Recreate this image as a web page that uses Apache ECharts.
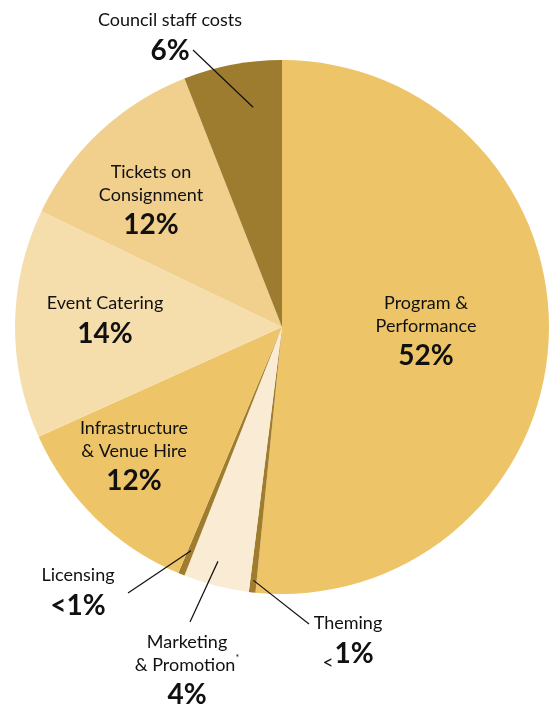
<!DOCTYPE html>
<html>
<head>
<meta charset="utf-8">
<script src="https://cdn.jsdelivr.net/npm/echarts@6/dist/echarts.min.js"></script>
<style>
  html, body { margin: 0; padding: 0; background: #ffffff; }
  #chart { width: 552px; height: 707px; }
</style>
</head>
<body>
<div id="chart"></div>
<script>
// Budget split, clockwise from 12 o'clock
const categories = [
  'Program & Performance', 'Theming', 'Marketing & Promotion', 'Licensing',
  'Infrastructure & Venue Hire', 'Event Catering', 'Tickets on Consignment', 'Council staff costs'
];
const shares = [52, 0.4, 4, 0.4, 12, 14, 12, 6];
const shareLabels = ['52%', '<1%', '4%', '<1%', '12%', '14%', '12%', '6%'];
const nameLines = [
  ['Program &', 'Performance'],
  ['Theming'],
  ['Marketing', '& Promotion*'],
  ['Licensing'],
  ['Infrastructure', '& Venue Hire'],
  ['Event Catering'],
  ['Tickets on', 'Consignment'],
  ['Council staff costs']
];

// Styling and label placement
const sliceColors = ['#EDC468', '#A07D2E', '#FAEBD4', '#A07D2E', '#EDC468', '#F6DEAC', '#F1CF8C', '#9D7B2F'];
const CENTER = [282, 327];
const RADIUS = 267;
const labelAt = [
  [426, 333], [348, 642], [187, 672], [78, 594],
  [134, 458], [105, 322], [151, 202], [170, 39]
];
// callout leader lines: position within slice (t), radius fraction, outer end
const callouts = {
  1: { t: 0.5, r: 0.955, end: [309, 624] },
  2: { t: 0.57, r: 0.91, end: [190, 622] },
  3: { t: 0.5, r: 0.905, end: [128, 593] },
  7: { t: 0.65, r: 0.83, end: [193, 50] }
};

const total = shares.reduce((a, b) => a + b, 0);
const startAngles = [];
shares.reduce((acc, v, i) => { startAngles[i] = acc; return acc + v / total * 360; }, 0);

function pointAt(i, t, rf) {
  const a = (startAngles[i] + t * shares[i] / total * 360) * Math.PI / 180;
  return [CENTER[0] + rf * RADIUS * Math.sin(a), CENTER[1] - rf * RADIUS * Math.cos(a)];
}

function pctText(i) {
  const s = shareLabels[i];
  if (i === 1) return '{lt|<}{pct|' + s.slice(1) + '}';
  return '{pct|' + s + '}';
}

const data = categories.map((name, i) => ({
  name: name,
  value: shares[i],
  itemStyle: { color: sliceColors[i] },
  label: {
    position: 'inside',
    formatter: nameLines[i].map(l => {
      const star = l.endsWith('*');
      return star ? '{name|' + l.slice(0, -1) + '}{sup|*}' : '{name|' + l + '}';
    }).join('\n') + '\n' + pctText(i)
  }
}));

// leader lines from inside the small slices out to their labels
const leaders = Object.keys(callouts).map(k => {
  const i = Number(k);
  const c = callouts[i];
  return {
    type: 'polyline',
    z: 100,
    silent: true,
    shape: { points: [pointAt(i, c.t, c.r), c.end] },
    style: { stroke: '#111111', lineWidth: 1.2, fill: null }
  };
});

const chart = echarts.init(document.getElementById('chart'), null, { renderer: 'canvas' });
chart.setOption({
  backgroundColor: '#ffffff',
  animation: false,
  graphic: { elements: leaders },
  series: [{
    type: 'pie',
    center: CENTER,
    radius: RADIUS,
    startAngle: 90,
    clockwise: true,
    avoidLabelOverlap: false,
    silent: true,
    data: data,
    labelLine: { show: false },
    label: {
      show: true,
      color: '#111111',
      fontFamily: 'Lato',
      align: 'center',
      rich: {
        name: { fontFamily: 'Lato', fontSize: 18, lineHeight: 23, color: '#111111' },
        sup: { fontFamily: 'Lato', fontSize: 9, lineHeight: 14, verticalAlign: 'top', color: '#111111' },
        pct: { fontFamily: 'Lato', fontSize: 28, fontWeight: 'bold', lineHeight: 37, color: '#111111' },
        lt: { fontFamily: 'Lato', fontSize: 19, lineHeight: 24, verticalAlign: 'bottom', color: '#111111', padding: [0, 1, 0, 0] }
      }
    },
    labelLayout: function (params) {
      const i = params.dataIndex;
      return {
        x: labelAt[i][0],
        y: labelAt[i][1],
        align: 'center',
        verticalAlign: 'middle'
      };
    }
  }]
});
</script>
</body>
</html>
